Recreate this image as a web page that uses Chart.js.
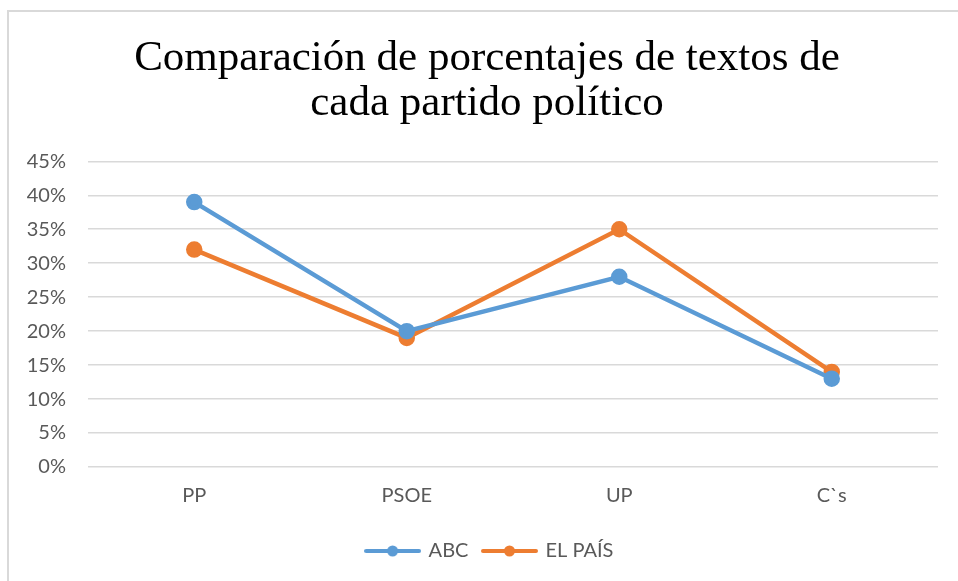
<!DOCTYPE html>
<html lang="es">
<head>
    <meta charset="UTF-8">
    <title>Comparación de porcentajes</title>
    <script src="https://cdn.jsdelivr.net/npm/chart.js"></script>
    <style>
        body { margin: 0; background: #fff; }
        #wrap { position: relative; width: 958px; height: 581px; }
        #frame {
            position: absolute; left: 7px; top: 10px; right: 0; bottom: 0;
            border-left: 2px solid #d9d9d9; border-top: 2px solid #d9d9d9;
            pointer-events: none;
        }
    </style>
</head>
<body>
    <div id="wrap">
        <canvas id="chart" width="958" height="581"></canvas>
        <div id="frame"></div>
    </div>

    <script>
        const partidos = ['PP', 'PSOE', 'UP', 'C`s'];
        const abc = [39, 20, 28, 13];
        const elPais = [32, 19, 35, 14];
        const tituloLineas = ['Comparación de porcentajes de textos de', 'cada partido político'];

        const azul = '#5b9bd5';
        const naranja = '#ed7d31';
        const gris = '#595959';
        const labelFont = { family: 'Lato', size: 20 };

        // legend symbol: short line with a dot in the middle
        function legendIcon(color) {
            const c = document.createElement('canvas');
            c.width = 57; c.height = 14;
            const g = c.getContext('2d');
            g.strokeStyle = color;
            g.lineWidth = 4;
            g.lineCap = 'round';
            g.beginPath();
            g.moveTo(2, 7); g.lineTo(55, 7);
            g.stroke();
            g.fillStyle = color;
            g.beginPath();
            g.arc(28.5, 7, 5.5, 0, Math.PI * 2);
            g.fill();
            return c;
        }

        // title and legend sit a bit right of the plot centre in the original
        const boxShift = {
            id: 'boxShift',
            afterLayout(ch) {
                ch.titleBlock.left += 13;
                ch.titleBlock.right += 13;
                ch.legend.left += 16;
                ch.legend.right += 16;
                ch.legend.top += 9;
                ch.legend.bottom += 9;
            }
        };

        const chart = new Chart(document.getElementById('chart').getContext('2d'), {
            type: 'line',
            data: {
                labels: partidos,
                datasets: [
                    { label: 'ABC', data: abc, borderColor: azul, backgroundColor: azul, borderWidth: 4.5, pointRadius: 6 },
                    { label: 'EL PAÍS', data: elPais, borderColor: naranja, backgroundColor: naranja, borderWidth: 4.5, pointRadius: 6 }
                ]
            },
            options: {
                responsive: false,
                animation: false,
                layout: { padding: { left: 10, right: 20, top: 0, bottom: 19 } },
                elements: { point: { pointStyle: 'circle' }, line: { tension: 0 } },
                scales: {
                    x: {
                        offset: true,
                        grid: { display: false },
                        border: { display: false },
                        ticks: { color: gris, font: labelFont, padding: 9 }
                    },
                    y: {
                        min: 0, max: 45,
                        afterFit: (s) => { s.width = 78; },
                        grid: { color: '#d9d9d9', lineWidth: 1.5, drawTicks: false },
                        border: { display: false },
                        ticks: { stepSize: 5, color: gris, font: labelFont, padding: 22, callback: v => v + '%' }
                    }
                },
                plugins: {
                    title: {
                        display: true,
                        text: tituloLineas,
                        color: '#000',
                        font: { family: 'Liberation Serif', size: 43, weight: 'normal', lineHeight: 1.05 },
                        padding: { top: 36, bottom: 35 }
                    },
                    legend: {
                        position: 'bottom',
                        labels: {
                            usePointStyle: true,
                            pointStyleWidth: 52,
                            boxHeight: 14,
                            padding: 15,
                            color: gris,
                            font: labelFont,
                            generateLabels: (ch) => ch.data.datasets.map((d, i) => ({
                                text: d.label,
                                pointStyle: legendIcon(d.borderColor),
                                fontColor: gris,
                                lineWidth: 0,
                                datasetIndex: i
                            }))
                        }
                    },
                    tooltip: { enabled: false }
                }
            },
            plugins: [boxShift]
        });
    </script>
</body>
</html>
